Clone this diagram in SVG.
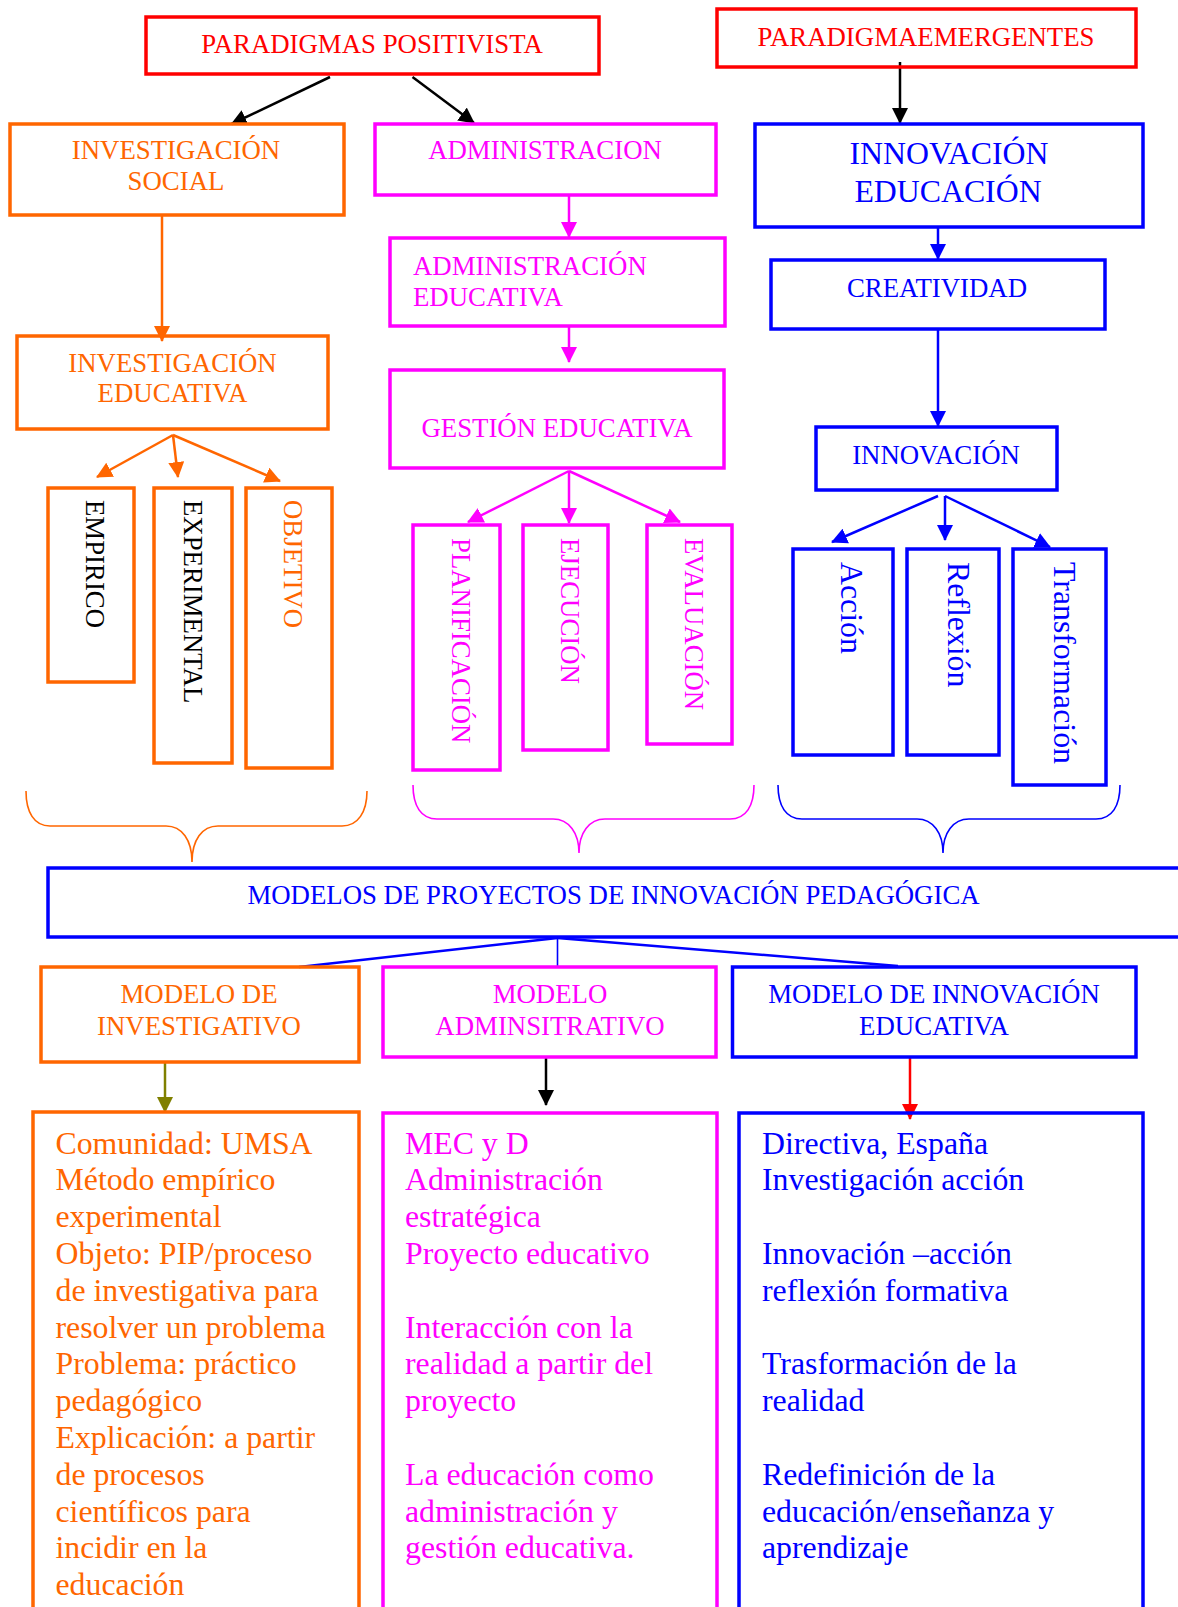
<svg xmlns="http://www.w3.org/2000/svg" width="1178" height="1607" viewBox="0 0 1178 1607">
  <style>
    text { font-family: "Liberation Serif", "Times New Roman", serif; font-size: 26.8px; }
    .big { font-size: 31.8px; }
    .mid { text-anchor: middle; }
    .box { fill: none; stroke-width: 3.5; }
    .or { stroke: #ff6600; } .ort { fill: #ff6600; }
    .mg { stroke: #ff00ff; } .mgt { fill: #ff00ff; }
    .bl { stroke: #0000ff; } .blt { fill: #0000ff; }
    .rd { stroke: #ff0000; } .rdt { fill: #ff0000; }
    .bk { stroke: #000000; } .bkt { fill: #000000; }
    .ol { stroke: #808000; }
    .ln { fill: none; stroke-width: 2.5; }
    .brace { fill: none; stroke-width: 1.6; }
  </style>
  <defs>
    <marker id="ah-bk" markerUnits="userSpaceOnUse" viewBox="0 0 16 16" markerWidth="16" markerHeight="16" refX="15" refY="8" orient="auto"><path d="M0,0 L16,8 L0,16 z" fill="#000000"/></marker>
    <marker id="ah-or" markerUnits="userSpaceOnUse" viewBox="0 0 16 16" markerWidth="16" markerHeight="16" refX="15" refY="8" orient="auto"><path d="M0,0 L16,8 L0,16 z" fill="#ff6600"/></marker>
    <marker id="ah-mg" markerUnits="userSpaceOnUse" viewBox="0 0 16 16" markerWidth="16" markerHeight="16" refX="15" refY="8" orient="auto"><path d="M0,0 L16,8 L0,16 z" fill="#ff00ff"/></marker>
    <marker id="ah-bl" markerUnits="userSpaceOnUse" viewBox="0 0 16 16" markerWidth="16" markerHeight="16" refX="15" refY="8" orient="auto"><path d="M0,0 L16,8 L0,16 z" fill="#0000ff"/></marker>
    <marker id="ah-ol" markerUnits="userSpaceOnUse" viewBox="0 0 16 16" markerWidth="16" markerHeight="16" refX="15" refY="8" orient="auto"><path d="M0,0 L16,8 L0,16 z" fill="#808000"/></marker>
    <marker id="ah-rd" markerUnits="userSpaceOnUse" viewBox="0 0 16 16" markerWidth="16" markerHeight="16" refX="15" refY="8" orient="auto"><path d="M0,0 L16,8 L0,16 z" fill="#ff0000"/></marker>
  </defs>
  <rect width="1178" height="1607" fill="#ffffff"/>

  <!-- connectors -->
  <g id="connectors">
    <line class="ln bk" x1="330" y1="77" x2="231.5" y2="124" marker-end="url(#ah-bk)"/>
    <line class="ln bk" x1="412.5" y1="77" x2="474" y2="123" marker-end="url(#ah-bk)"/>
    <line class="ln bk" x1="900" y1="62" x2="900" y2="123" marker-end="url(#ah-bk)"/>
    <line class="ln or" x1="162" y1="215" x2="162" y2="341" marker-end="url(#ah-or)"/>
    <line class="ln mg" x1="569" y1="195" x2="569" y2="237" marker-end="url(#ah-mg)"/>
    <line class="ln mg" x1="569" y1="326" x2="569" y2="362" marker-end="url(#ah-mg)"/>
    <line class="ln bl" x1="938" y1="227" x2="938" y2="259" marker-end="url(#ah-bl)"/>
    <line class="ln bl" x1="938" y1="329" x2="938" y2="426" marker-end="url(#ah-bl)"/>
    <line class="ln or" x1="173" y1="435" x2="97" y2="477" marker-end="url(#ah-or)"/>
    <line class="ln or" x1="173" y1="435" x2="178" y2="477" marker-end="url(#ah-or)"/>
    <line class="ln or" x1="173" y1="435" x2="280" y2="481" marker-end="url(#ah-or)"/>
    <line class="ln mg" x1="569" y1="471" x2="468" y2="522" marker-end="url(#ah-mg)"/>
    <line class="ln mg" x1="569" y1="471" x2="569" y2="523" marker-end="url(#ah-mg)"/>
    <line class="ln mg" x1="569" y1="471" x2="680" y2="522" marker-end="url(#ah-mg)"/>
    <line class="ln bl" x1="938" y1="496" x2="832" y2="542" marker-end="url(#ah-bl)"/>
    <line class="ln bl" x1="945" y1="496" x2="945" y2="540" marker-end="url(#ah-bl)"/>
    <line class="ln bl" x1="945" y1="496" x2="1050" y2="547" marker-end="url(#ah-bl)"/>
    <!-- braces -->
    <path class="brace or" d="M26,791 C26,812 34,826 50,826 L166,826 C182,826 192,840 192,862 C192,840 202,826 218,826 L342,826 C358,826 367,812 367,791"/>
    <path class="brace mg" d="M413,785 C413,806 421,819 437,819 L553,819 C569,819 579,833 579,853 C579,833 589,819 605,819 L730,819 C746,819 754,806 754,785"/>
    <path class="brace bl" d="M778,785 C778,806 786,819 802,819 L917,819 C933,819 943,833 943,853 C943,833 953,819 969,819 L1096,819 C1112,819 1120,806 1120,785"/>
    <!-- links from the models box -->
    <line class="ln bl" x1="557.5" y1="938" x2="299" y2="967"/>
    <line class="bl" stroke-width="1.6" x1="557.5" y1="938" x2="557.5" y2="967"/>
    <line class="ln bl" x1="557.5" y1="938" x2="898" y2="966"/>
    <line class="ln ol" x1="165" y1="1062" x2="165" y2="1112" marker-end="url(#ah-ol)"/>
    <line class="ln bk" x1="546" y1="1057" x2="546" y2="1105" marker-end="url(#ah-bk)"/>
    <line class="ln rd" x1="910" y1="1057" x2="910" y2="1119" marker-end="url(#ah-rd)"/>
  </g>

  <!-- paradigms -->
  <g id="paradigmas-positivista">
    <rect class="box rd" x="146" y="17" width="453" height="57"/>
    <text class="rdt mid" x="372" y="53">PARADIGMAS POSITIVISTA</text>
  </g>
  <g id="paradigma-emergentes">
    <rect class="box rd" x="717" y="9" width="419" height="58"/>
    <text class="rdt mid" x="926" y="46">PARADIGMAEMERGENTES</text>
  </g>

  <!-- orange column -->
  <g id="investigacion-social">
    <rect class="box or" x="10" y="124" width="334" height="91"/>
    <text class="ort mid" x="176" y="159">INVESTIGACIÓN</text>
    <text class="ort mid" x="176" y="190">SOCIAL</text>
  </g>
  <g id="investigacion-educativa">
    <rect class="box or" x="17" y="336" width="311" height="93"/>
    <text class="ort mid" x="172.5" y="372">INVESTIGACIÓN</text>
    <text class="ort mid" x="172.5" y="402">EDUCATIVA</text>
  </g>
  <g id="empirico">
    <rect class="box or" x="48" y="488" width="86" height="194"/>
    <text class="bkt" transform="translate(86,500) rotate(90)">EMPIRICO</text>
  </g>
  <g id="experimental">
    <rect class="box or" x="154" y="488" width="78" height="275"/>
    <text class="bkt" transform="translate(184,500) rotate(90)">EXPERIMENTAL</text>
  </g>
  <g id="objetivo">
    <rect class="box or" x="246" y="488" width="86" height="280"/>
    <text class="ort" transform="translate(284,500) rotate(90)">OBJETIVO</text>
  </g>

  <!-- magenta column -->
  <g id="administracion">
    <rect class="box mg" x="375" y="124" width="341" height="71"/>
    <text class="mgt mid" x="545" y="159">ADMINISTRACION</text>
  </g>
  <g id="administracion-educativa">
    <rect class="box mg" x="390" y="238" width="335" height="88"/>
    <text class="mgt" x="413" y="275">ADMINISTRACIÓN</text>
    <text class="mgt" x="413" y="306">EDUCATIVA</text>
  </g>
  <g id="gestion-educativa">
    <rect class="box mg" x="390" y="370" width="334" height="98"/>
    <text class="mgt mid" x="557" y="437">GESTIÓN EDUCATIVA</text>
  </g>
  <g id="planificacion">
    <rect class="box mg" x="413" y="525" width="87" height="245"/>
    <text class="mgt" transform="translate(452,538) rotate(90)">PLANIFICACIÓN</text>
  </g>
  <g id="ejecucion">
    <rect class="box mg" x="523" y="525" width="85" height="225"/>
    <text class="mgt" transform="translate(561,538) rotate(90)">EJECUCIÓN</text>
  </g>
  <g id="evaluacion">
    <rect class="box mg" x="647" y="525" width="85" height="219"/>
    <text class="mgt" transform="translate(685,538) rotate(90)">EVALUACIÓN</text>
  </g>

  <!-- blue column -->
  <g id="innovacion-educacion">
    <rect class="box bl" x="755" y="124" width="388" height="103"/>
    <text class="blt mid big" x="949" y="164">INNOVACIÓN</text>
    <text class="blt mid big" x="948" y="202">EDUCACIÓN</text>
  </g>
  <g id="creatividad">
    <rect class="box bl" x="771" y="260" width="334" height="69"/>
    <text class="blt mid" x="937" y="297">CREATIVIDAD</text>
  </g>
  <g id="innovacion">
    <rect class="box bl" x="816" y="427" width="241" height="63"/>
    <text class="blt mid" x="936" y="464">INNOVACIÓN</text>
  </g>
  <g id="accion">
    <rect class="box bl" x="793" y="549" width="100" height="206"/>
    <text class="blt big" transform="translate(841,562) rotate(90)">Acción</text>
  </g>
  <g id="reflexion">
    <rect class="box bl" x="907" y="549" width="92" height="206"/>
    <text class="blt big" transform="translate(948,562) rotate(90)">Reflexión</text>
  </g>
  <g id="transformacion">
    <rect class="box bl" x="1013" y="549" width="93" height="236"/>
    <text class="blt big" transform="translate(1054,562) rotate(90)">Transformación</text>
  </g>

  <!-- models -->
  <g id="modelos-proyectos">
    <rect class="box bl" stroke-width="4" x="48" y="868" width="1170" height="69"/>
    <text class="blt mid" x="613.5" y="904">MODELOS DE PROYECTOS DE INNOVACIÓN PEDAGÓGICA</text>
  </g>
  <g id="modelo-investigativo">
    <rect class="box or" x="41" y="967" width="318" height="95"/>
    <text class="ort mid" x="199" y="1003">MODELO DE</text>
    <text class="ort mid" x="199" y="1035">INVESTIGATIVO</text>
  </g>
  <g id="modelo-administrativo">
    <rect class="box mg" x="383" y="967" width="333" height="90"/>
    <text class="mgt mid" x="550" y="1003">MODELO</text>
    <text class="mgt mid" x="550" y="1035">ADMINSITRATIVO</text>
  </g>
  <g id="modelo-innovacion">
    <rect class="box bl" x="732.5" y="967" width="403.5" height="90"/>
    <text class="blt mid" x="934" y="1003">MODELO DE INNOVACIÓN</text>
    <text class="blt mid" x="934" y="1035">EDUCATIVA</text>
  </g>

  <!-- detail boxes -->
  <g id="detalle-investigativo">
    <rect class="box or" x="33" y="1112" width="326" height="540"/>
    <text class="ort big">
      <tspan x="55.5" y="1153.5">Comunidad: UMSA</tspan>
      <tspan x="55.5" y="1190.3">Método empírico</tspan>
      <tspan x="55.5" y="1227.1">experimental</tspan>
      <tspan x="55.5" y="1263.9">Objeto: PIP/proceso</tspan>
      <tspan x="55.5" y="1300.7">de investigativa para</tspan>
      <tspan x="55.5" y="1337.5">resolver un problema</tspan>
      <tspan x="55.5" y="1374.3">Problema: práctico</tspan>
      <tspan x="55.5" y="1411.1">pedagógico</tspan>
      <tspan x="55.5" y="1447.9">Explicación: a partir</tspan>
      <tspan x="55.5" y="1484.7">de procesos</tspan>
      <tspan x="55.5" y="1521.5">científicos para</tspan>
      <tspan x="55.5" y="1558.3">incidir en la</tspan>
      <tspan x="55.5" y="1595.1">educación</tspan>
    </text>
  </g>
  <g id="detalle-administrativo">
    <rect class="box mg" x="383" y="1113" width="334" height="540"/>
    <text class="mgt big">
      <tspan x="405" y="1153.5">MEC y D</tspan>
      <tspan x="405" y="1190.3">Administración</tspan>
      <tspan x="405" y="1227.1">estratégica</tspan>
      <tspan x="405" y="1263.9">Proyecto educativo</tspan>
      <tspan x="405" y="1337.5">Interacción con la</tspan>
      <tspan x="405" y="1374.3">realidad a partir del</tspan>
      <tspan x="405" y="1411.1">proyecto</tspan>
      <tspan x="405" y="1484.7">La educación como</tspan>
      <tspan x="405" y="1521.5">administración y</tspan>
      <tspan x="405" y="1558.3">gestión educativa.</tspan>
    </text>
  </g>
  <g id="detalle-innovacion">
    <rect class="box bl" x="739" y="1113" width="404" height="540"/>
    <text class="blt big">
      <tspan x="762" y="1153.5">Directiva, España</tspan>
      <tspan x="762" y="1190.3">Investigación acción</tspan>
      <tspan x="762" y="1263.9">Innovación –acción</tspan>
      <tspan x="762" y="1300.7">reflexión formativa</tspan>
      <tspan x="762" y="1374.3">Trasformación de la</tspan>
      <tspan x="762" y="1411.1">realidad</tspan>
      <tspan x="762" y="1484.7">Redefinición de la</tspan>
      <tspan x="762" y="1521.5">educación/enseñanza y</tspan>
      <tspan x="762" y="1558.3">aprendizaje</tspan>
    </text>
  </g>
</svg>
